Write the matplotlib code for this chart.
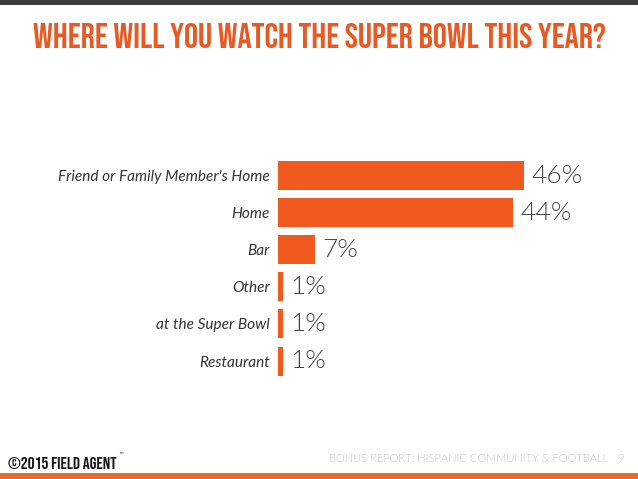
import matplotlib

matplotlib.use('Agg')
import matplotlib.pyplot as plt
from matplotlib.patches import Rectangle

# survey answers, top to bottom
places = ["Friend or Family Member's Home", "Home", "Bar", "Other",
          "at the Super Bowl", "Restaurant"]
shares = [46, 44, 7, 1, 1, 1]

title = "WHERE WILL YOU WATCH THE SUPER BOWL THIS YEAR?"
footer_left = "\u00a92015 FiELD AGENT"
footer_tm = "\u2122"
footer_right = "BONUS REPORT: HISPANIC COMMUNITY & FOOTBALL"
page_no = "9"

orange = '#f05a1e'
title_orange = '#e85a24'
condensed = ['Bebas Neue', 'DejaVu Sans']
lato = ['Lato', 'DejaVu Sans']

fig = plt.figure(figsize=(6.38, 4.79), dpi=100)
fig.patch.set_facecolor('white')

# top dark strip and bottom orange strip
fig.add_artist(Rectangle((0, 1 - 5 / 479), 1, 5 / 479, transform=fig.transFigure,
                         color='#3a3a3a', lw=0))
fig.add_artist(Rectangle((0, 0), 1, 6 / 479, transform=fig.transFigure,
                         color='#ee6a2c', lw=0))

fig.text(0.5, 1 - 35 / 479, title, ha='center', va='center', fontsize=25.5,
         color=title_orange, family=condensed)

ax = fig.add_axes([278 / 638, 0.2075, 322 / 638, 0.4647])
ypos = list(range(len(places)))
ax.barh(ypos, shares, height=0.78, color=orange)
ax.set_xlim(0, 322 / 5.35)
ax.set_ylim(len(places) - 0.5, -0.5)
ax.set_yticks(ypos)
ax.set_yticklabels(places, fontsize=11.1, style='italic', color='#333333',
                   family=lato)
ax.tick_params(axis='y', length=0, pad=6)
ax.set_xticks([])
for s in ax.spines.values():
    s.set_visible(False)

# Lato Light (300), not 'light' which maps to 200 and picks the hairline cut
for y, v in zip(ypos, shares):
    ax.annotate(f"{v}%", (v, y), xytext=(5, 0), textcoords='offset points',
                ha='left', va='center', fontsize=19, color='#444444',
                fontweight=300, family=lato)

fig.text(8 / 638, 1 - 463 / 479, footer_left, ha='left', va='center',
         fontsize=12.4, color='#111111', family=condensed)
fig.text(118 / 638, 1 - 455 / 479, footer_tm, ha='left', va='center',
         fontsize=4, color='#111111', family=['DejaVu Sans'])
fig.text(608 / 638, 1 - 458 / 479, footer_right, ha='right', va='center',
         fontsize=8, fontweight=300, color='#c4c4c4', family=lato)
fig.text(617 / 638, 1 - 458 / 479, page_no, ha='left', va='center',
         fontsize=8, fontweight=300, color='#c4c4c4', family=lato)

fig.savefig('out.png', dpi=100, facecolor='white')
plt.close(fig)
